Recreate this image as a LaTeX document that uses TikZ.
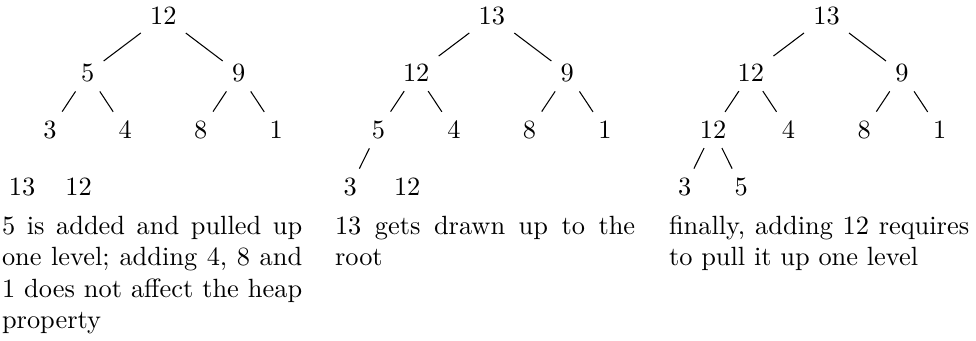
\documentclass[tikz,border=0pt]{standalone}
\begin{document}
\begin{tikzpicture}[x=0.3792pt,y=-0.3792pt,
  tn/.style={inner sep=0.3333em},
  capt/.style={anchor=base west,inner sep=0pt,text width=4cm,align=justify}]
\useasboundingbox (0,0) rectangle (976,340);
% panel 1
\node[tn] (p1r) at (163.3,16) {12};
\node[tn] (p1a) at (87.7,73) {5};
\node[tn] (p1b) at (238.6,73) {9};
\node[tn] (p1aa) at (50,130) {3};
\node[tn] (p1ab) at (125.2,130) {4};
\node[tn] (p1ba) at (200.8,130) {8};
\node[tn] (p1bb) at (276.2,130) {1};
\node[tn] (p1aaa) at (22,187) {13};
\node[tn] (p1aab) at (78.5,187) {12};
\draw (p1r) -- (p1a); \draw (p1r) -- (p1b);
\draw (p1a) -- (p1aa); \draw (p1a) -- (p1ab);
\draw (p1b) -- (p1ba); \draw (p1b) -- (p1bb);
% panel 2
\node[tn] (p2r) at (491.8,16) {13};
\node[tn] (p2a) at (416.2,73) {12};
\node[tn] (p2b) at (567.3,73) {9};
\node[tn] (p2aa) at (378.4,130) {5};
\node[tn] (p2ab) at (453.9,130) {4};
\node[tn] (p2ba) at (529.5,130) {8};
\node[tn] (p2bb) at (605,130) {1};
\node[tn] (p2aaa) at (350.3,187) {3};
\node[tn] (p2aab) at (407.2,187) {12};
\draw (p2r) -- (p2a); \draw (p2r) -- (p2b);
\draw (p2a) -- (p2aa); \draw (p2a) -- (p2ab);
\draw (p2b) -- (p2ba); \draw (p2b) -- (p2bb);
\draw (p2aa) -- (p2aaa);
% panel 3
\node[tn] (p3r) at (826.5,16) {13};
\node[tn] (p3a) at (750.9,73) {12};
\node[tn] (p3b) at (901.9,73) {9};
\node[tn] (p3aa) at (713,130) {12};
\node[tn] (p3ab) at (788.5,130) {4};
\node[tn] (p3ba) at (864.2,130) {8};
\node[tn] (p3bb) at (939.7,130) {1};
\node[tn] (p3aaa) at (684.8,187) {3};
\node[tn] (p3aab) at (741.2,187) {5};
\draw (p3r) -- (p3a); \draw (p3r) -- (p3b);
\draw (p3a) -- (p3aa); \draw (p3a) -- (p3ab);
\draw (p3b) -- (p3ba); \draw (p3b) -- (p3bb);
\draw (p3aa) -- (p3aaa); \draw (p3aa) -- (p3aab);
% captions
\node[capt] (c1) at (1.5,234) {5 is added and pulled up one level; adding 4, 8 and 1 does not affect the heap property};
\node[capt] (c2) at (334.5,234) {13 gets drawn up to the root};
\node[capt] (c3) at (668.5,234) {finally, adding 12 requires to pull it up one level};
\end{tikzpicture}
\end{document}
